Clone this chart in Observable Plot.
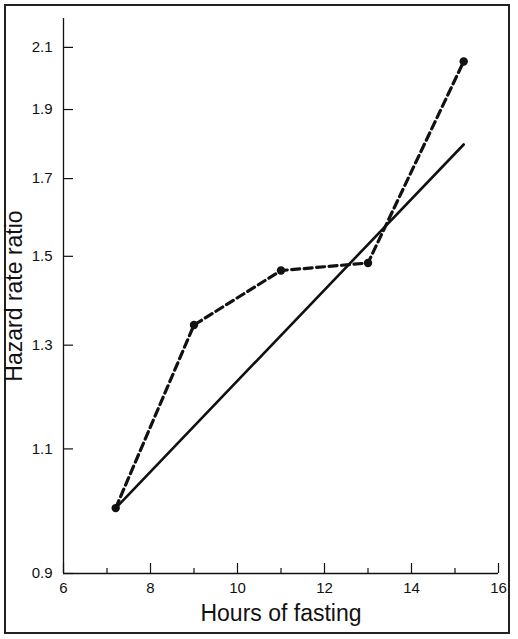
<!DOCTYPE html>
<html>
<head>
<meta charset="utf-8">
<script src="https://cdn.jsdelivr.net/npm/d3@7"></script>
<script src="https://cdn.jsdelivr.net/npm/@observablehq/plot@0.6"></script>
<style>
  html, body { margin: 0; padding: 0; background: #fff; }
  #wrap { position: relative; width: 518px; height: 639px; }
  #border { position: absolute; left: 4px; top: 4px; width: 502px; height: 626px; border: 2px solid #222; pointer-events: none; }
</style>
</head>
<body>
<div id="wrap"><div id="border"></div></div>
<script>
// Observed hazard rate ratios (dashed line with points)
const hours = [7.2, 9, 11, 13, 15.2];
const observed = [1.0, 1.343, 1.466, 1.484, 2.053];
// Fitted trend (solid line)
const trendHours = [7.2, 15.2];
const trend = [1.0, 1.796];
// Axes
const xMajorTicks = [6, 8, 10, 12, 14, 16];
const xMinorTicks = [7, 9, 11, 13, 15];
const yTicks = [0.9, 1.1, 1.3, 1.5, 1.7, 1.9, 2.1];
const xLabel = "Hours of fasting";
const yLabel = "Hazard rate ratio";

const obsData = hours.map((h, i) => ({h, v: observed[i]}));
const trendData = trendHours.map((h, i) => ({h, v: trend[i]}));

const W = 518, H = 639, mL = 63, mR = 20, mT = 18, mB = 66;
const innerW = W - mL - mR, innerH = H - mT - mB;
const ink = "#111";

const chart = Plot.plot({
  width: W,
  height: H,
  marginLeft: mL,
  marginRight: mR,
  marginTop: mT,
  marginBottom: mB,
  style: {fontFamily: "'Liberation Sans', Arial, Helvetica, sans-serif", fontSize: "15px", color: ink, background: "transparent"},
  x: {domain: [6, 16], axis: null},
  y: {type: "log", domain: [0.9, 2.2], axis: null},
  marks: [
    // axis lines
    Plot.ruleX([6], {stroke: ink, strokeWidth: 1.3}),
    Plot.ruleY([0.9], {stroke: ink, strokeWidth: 1.3}),
    // inward ticks
    Plot.tickX(xMajorTicks, {x: d => d, insetTop: innerH - 10, stroke: ink, strokeWidth: 1.2}),
    Plot.tickX(xMinorTicks, {x: d => d, insetTop: innerH - 5, stroke: ink, strokeWidth: 1.2}),
    Plot.tickY(yTicks, {y: d => d, insetRight: innerW - 10, stroke: ink, strokeWidth: 1.2}),
    // tick labels
    Plot.text(xMajorTicks, {x: d => d, text: d => String(d), frameAnchor: "bottom", dy: 15, lineAnchor: "middle", fontSize: 15, fill: ink}),
    Plot.text(yTicks, {y: d => d, text: d => d.toFixed(1), frameAnchor: "left", dx: -11, textAnchor: "end", lineAnchor: "middle", fontSize: 15, fill: ink}),
    // fitted trend
    Plot.line(trendData, {x: "h", y: "v", stroke: ink, strokeWidth: 2.6}),
    // observed
    Plot.line(obsData, {x: "h", y: "v", stroke: ink, strokeWidth: 3.2, strokeDasharray: "8,4.5"}),
    Plot.dot(obsData, {x: "h", y: "v", r: 4.2, fill: ink, stroke: "none"}),
    // axis titles
    Plot.text([xLabel], {frameAnchor: "bottom", dy: 40, fontSize: 23, fill: ink, lineAnchor: "middle"}),
    Plot.text([yLabel], {frameAnchor: "left", dx: -49, rotate: -90, fontSize: 23, fill: ink, textAnchor: "middle", lineAnchor: "middle"})
  ]
});
document.getElementById("wrap").appendChild(chart);
chart.style.position = "absolute";
chart.style.left = "0";
chart.style.top = "0";
</script>
</body>
</html>
